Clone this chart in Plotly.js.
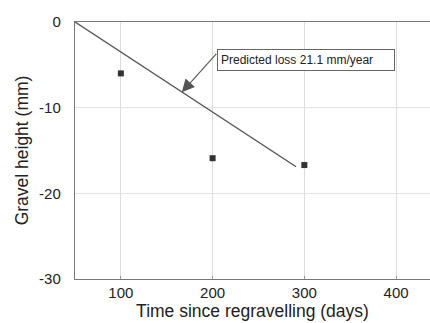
<!DOCTYPE html>
<html>
<head>
<meta charset="utf-8">
<script src="https://cdn.plot.ly/plotly-3.0.1.min.js"></script>
<style>html,body{margin:0;padding:0;background:#fff;}#chart{width:430px;height:323px;}</style>
</head>
<body>
<div id="chart"></div>
<script>
// Measured data
var timeDays = [100, 200, 300];
var gravelHeight = [-6.0, -15.9, -16.7];
// Predicted loss line
var predX = [50, 291];
var predY = [0, -16.9];
var xTicks = [100, 200, 300, 400];
var yTicks = [0, -10, -20, -30];
var noteText = 'Predicted loss 21.1 mm/year';

var traces = [
  {x: predX, y: predY, mode: 'lines', type: 'scatter',
   line: {color: '#555', width: 1.4}, hoverinfo: 'skip'},
  {x: timeDays, y: gravelHeight, mode: 'markers', type: 'scatter',
   marker: {symbol: 'square', size: 6, color: '#333'}}
];

var fam = 'Liberation Sans, Arial, sans-serif';
var tickFont = {family: fam, size: 15, color: '#222'};
var titleFont = {family: fam, size: 17.5, color: '#222'};

var layout = {
  width: 430, height: 323,
  margin: {l: 75, r: 0, t: 22, b: 44},
  paper_bgcolor: '#fff', plot_bgcolor: '#fff',
  showlegend: false,
  font: tickFont,
  xaxis: {
    range: [50, 437], tickvals: xTicks, ticktext: xTicks.map(String),
    showgrid: true, gridcolor: '#dcdcdc', gridwidth: 1,
    showline: true, linecolor: '#777', linewidth: 1.2, mirror: true,
    ticks: 'inside', ticklen: 3, tickcolor: '#999',
    ticklabelstandoff: 0,
    zeroline: false, tickfont: tickFont,
    title: {text: 'Time since regravelling (days)', font: titleFont, standoff: 0}
  },
  yaxis: {
    range: [-30, 0], tickvals: yTicks, ticktext: yTicks.map(String),
    showgrid: true, gridcolor: '#e2e2e2', gridwidth: 1,
    showline: true, linecolor: '#777', linewidth: 1.2, mirror: false,
    ticks: '', ticklabelstandoff: 10,
    zeroline: false,
    tickfont: tickFont,
    title: {text: 'Gravel height (mm)', font: titleFont, standoff: 6}
  },
  annotations: [
    {x: 166.4, y: -8.2, xref: 'x', yref: 'y', text: ' ', showarrow: true,
     ax: 36, ay: -40, arrowhead: 2, arrowsize: 2.3, arrowwidth: 1.1, arrowcolor: '#555',
     font: {size: 1}},
    {x: 302, y: -4.45, xref: 'x', yref: 'y', text: noteText, showarrow: false,
     width: 170, align: 'left',
     font: {family: fam, size: 12, color: '#222'},
     bordercolor: '#666', borderwidth: 1, borderpad: 3, bgcolor: '#fff'}
  ]
};

Plotly.newPlot('chart', traces, layout, {displayModeBar: false, staticPlot: true});
</script>
</body>
</html>
